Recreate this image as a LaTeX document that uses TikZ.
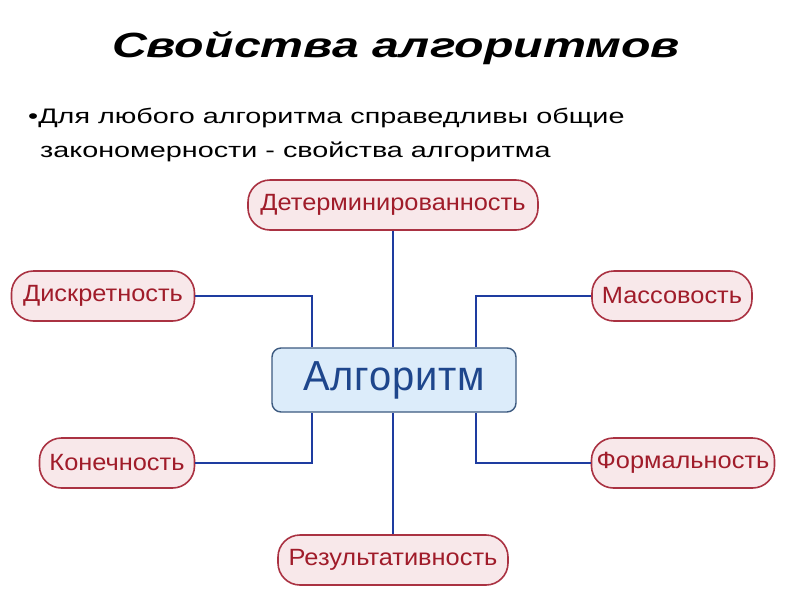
\documentclass[tikz,border=0pt]{standalone}
\usepackage{fontspec}
\setmainfont{Liberation Sans}
\newfontfamily\titlefont[FakeStretch=1.38]{Liberation Sans}
\newfontfamily\bodyfont[FakeStretch=1.37]{Liberation Sans}
\newfontfamily\propfont[FakeStretch=1.08]{Liberation Sans}
\newfontfamily\algfont[FakeStretch=0.95, LetterSpace=2]{Liberation Sans}
\usetikzlibrary{positioning}

\definecolor{propred}{RGB}{160,28,42}
\definecolor{propfill}{RGB}{248,232,234}
\definecolor{propline}{RGB}{170,50,66}
\definecolor{algfill}{RGB}{220,236,250}
\definecolor{algline}{RGB}{60,90,128}
\definecolor{algtext}{RGB}{30,70,140}
\definecolor{linkblue}{RGB}{30,60,160}

\tikzset{
  prop/.style={draw=propline, line width=1.6pt, fill=propfill, text=propred,
    rounded corners=22pt, minimum height=50pt, inner xsep=2pt,
    font=\propfont\fontsize{23.5}{27}\selectfont},
  algo/.style={draw=algline, line width=1.4pt, fill=algfill, text=algtext,
    rounded corners=9pt, minimum height=64pt, minimum width=244pt,
    font=\algfont\fontsize{42}{46}\selectfont},
  link/.style={draw=linkblue, line width=2.2pt}
}

\begin{document}
\begin{tikzpicture}[x=1pt, y=-1pt]
  \useasboundingbox[fill=white] (0,0) rectangle (800,600);

  % title and text
  \node (title) at (396,48) {\titlefont\fontsize{35}{40}\selectfont\bfseries\itshape Свойства алгоритмов};
  \node[anchor=base west, inner sep=0pt] (line1) at (28,123) {\bodyfont\fontsize{21}{25}\selectfont •Для любого алгоритма справедливы общие};
  \node[anchor=base west, inner sep=0pt] (line2) at (40,157) {\bodyfont\fontsize{21}{25}\selectfont закономерности - свойства алгоритма};

  % nodes
  \node[algo] (alg) at (394,380) {Алгоритм};
  \node[prop, minimum width=290pt] (det) at (393,205) {Детерминированность};
  \node[prop, minimum width=183pt] (disc) at (103,296) {Дискретность};
  \node[prop, minimum width=160pt] (mass) at (672,296) {Массовость};
  \node[prop, minimum width=155pt] (kon) at (117,463) {Конечность};
  \node[prop, minimum width=183pt] (form) at (683,463) {Формальность};
  \node[prop, minimum width=230pt] (res) at (393,560) {Результативность};

  % connectors
  \draw[link] (det.south) -- (det.south |- alg.north);
  \draw[link] (res.north) -- (res.north |- alg.south);
  \draw[link] (disc.east) -| ([xshift=41]alg.north west);
  \draw[link] (mass.west) -| ([xshift=-41]alg.north east);
  \draw[link] (kon.east) -| ([xshift=41]alg.south west);
  \draw[link] (form.west) -| ([xshift=-41]alg.south east);
\end{tikzpicture}
\end{document}
